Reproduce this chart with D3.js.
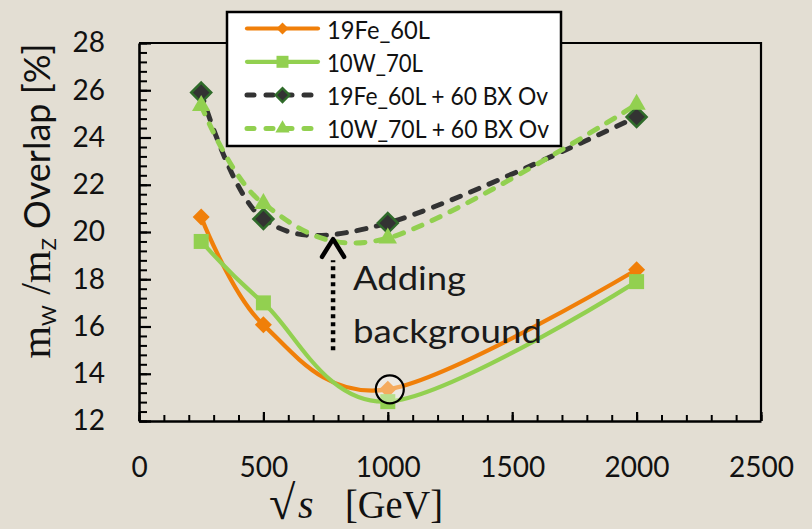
<!DOCTYPE html>
<html><head><meta charset="utf-8">
<script src="https://cdn.jsdelivr.net/npm/d3@7"></script>
<style>
html,body{margin:0;padding:0;background:#E3DED3;}
svg{display:block;}
</style></head><body>
<svg id="chart" width="812" height="529"></svg>
<script>
// Collision energy (GeV) and W/Z mass-peak overlap (%) per detector configuration
const energies = [250, 500, 1000, 2000];
const fe60 = [20.63, 16.07, 13.34, 18.4];
const w70 = [19.6, 17.0, 12.82, 17.9];
const fe60Ov = [25.9, 20.55, 20.38, 24.87];
const w70Ov = [25.35, 21.2, 19.74, 25.4];

const seriesNames = ["19Fe_60L", "10W_70L", "19Fe_60L + 60 BX Ov", "10W_70L + 60 BX Ov"];
const xTickValues = [0, 500, 1000, 1500, 2000, 2500];
const yTickValues = [12, 14, 16, 18, 20, 22, 24, 26, 28];
const xMinorStep = 100;
const yMinorStep = 0.4;
const highlightEnergy = 1000;

const svg = d3.select("#chart");
const sans = "Lato, 'Open Sans', sans-serif";
const serif = "'Liberation Serif', 'DejaVu Serif', serif";

const x = d3.scaleLinear().domain([0, 2500]).range([139, 761]);
const y = d3.scaleLinear().domain([12, 28]).range([421, 43]);

const ORANGE = "#F07F09", GREEN = "#92D050", DARK = "#333333", DKGREEN = "#2F6B2A";

// plot frame (top and right edges)
svg.append("path")
  .attr("d", `M${x(0)},${y(28)}H${x(2500)}V${y(12)}`)
  .attr("fill", "none").attr("stroke", "#000").attr("stroke-width", 2.2);

// minor ticks
const xMinor = d3.range(0, 2500 + 1, xMinorStep);
const yMinor = d3.range(12, 28 + 0.001, yMinorStep);
svg.append("g").attr("transform", `translate(0,${y(12)})`)
  .call(d3.axisBottom(x).tickValues(xMinor).tickSize(-6).tickSizeOuter(0).tickFormat(""))
  .call(g => g.select(".domain").remove())
  .call(g => g.selectAll("line").attr("stroke-width", 2));
svg.append("g").attr("transform", `translate(${x(0)},0)`)
  .call(d3.axisLeft(y).tickValues(yMinor).tickSize(-8).tickSizeOuter(0).tickFormat(""))
  .call(g => g.select(".domain").remove())
  .call(g => g.selectAll("line").attr("stroke-width", 2));

// major axes
const xAxis = svg.append("g").attr("transform", `translate(0,${y(12)})`)
  .call(d3.axisBottom(x).tickValues(xTickValues).tickSize(-9).tickSizeOuter(0).tickPadding(36).tickFormat(d3.format("d")));
const yAxis = svg.append("g").attr("transform", `translate(${x(0)},0)`)
  .call(d3.axisLeft(y).tickValues(yTickValues).tickSize(-12).tickSizeOuter(0).tickPadding(34).tickFormat(d3.format("d")));
[xAxis, yAxis].forEach(g => {
  g.select(".domain").attr("stroke-width", 2.6);
  g.selectAll(".tick line").attr("stroke-width", 2.2);
  g.selectAll(".tick text").attr("font-family", sans).attr("font-size", 28).attr("fill", "#111");
});

// smoothed series lines
const line = d3.line()
  .x((d, i) => x(energies[i]))
  .y(d => y(d))
  .curve(d3.curveCardinal.tension(0));

const diamond = r => `M0,${-r}L${r},0L0,${r}L${-r},0Z`;
const square = r => `M${-r},${-r}H${r}V${r}H${-r}Z`;
const tri = r => d3.symbol(d3.symbolTriangle, r * r * 1.8)();

const series = [
  { name: seriesNames[0], values: fe60, color: ORANGE, dash: null, width: 4.2,
    shape: diamond, r: 8.5, fill: ORANGE, stroke: "none", lr: 6 },
  { name: seriesNames[1], values: w70, color: GREEN, dash: null, width: 4.2,
    shape: square, r: 7.5, fill: GREEN, stroke: "none", lr: 6 },
  { name: seriesNames[2], values: fe60Ov, color: DARK, dash: "9,11", width: 5,
    shape: diamond, r: 10, fill: DARK, stroke: DKGREEN, lr: 7 },
  { name: seriesNames[3], values: w70Ov, color: GREEN, dash: "9,11", width: 5,
    shape: tri, r: 9, fill: GREEN, stroke: "none", lr: 7 }
];

series.forEach(s => {
  const g = svg.append("g");
  g.append("path").attr("d", line(s.values))
    .attr("fill", "none").attr("stroke", s.color).attr("stroke-width", s.width)
    .attr("stroke-linecap", "round")
    .attr("stroke-dasharray", s.dash);
  g.selectAll("path.mk").data(s.values).join("path").attr("class", "mk")
    .attr("transform", (d, i) => `translate(${x(energies[i])},${y(d)})`)
    .attr("d", s.shape(s.r))
    .attr("fill", s.fill).attr("stroke", s.stroke).attr("stroke-width", 2.5);
});

// highlight ring around the 1 TeV point
const hi = energies.indexOf(highlightEnergy);
svg.append("circle")
  .attr("cx", x(highlightEnergy) + 2).attr("cy", y(fe60[hi]))
  .attr("r", 14)
  .attr("fill", "rgba(255,255,255,0.35)")
  .attr("stroke", "#000").attr("stroke-width", 2.2);

// "Adding background" annotation arrow
const ax = x(780);
svg.append("line")
  .attr("x1", ax).attr("x2", ax).attr("y1", y(15.0)).attr("y2", y(18.8))
  .attr("stroke", "#000").attr("stroke-width", 4.5).attr("stroke-dasharray", "4,4");
svg.append("path")
  .attr("d", `M${ax - 11},${y(18.95)}L${ax},${y(19.7)}L${ax + 11},${y(18.95)}`)
  .attr("fill", "none").attr("stroke", "#000").attr("stroke-width", 4.5)
  .attr("stroke-linecap", "round").attr("stroke-linejoin", "round");
const note = svg.append("g").attr("font-family", sans).attr("font-size", 33).attr("fill", "#1a1a1a");
note.append("text").attr("x", 353).attr("y", 290)
  .attr("textLength", 113).attr("lengthAdjust", "spacingAndGlyphs").text("Adding");
note.append("text").attr("x", 353).attr("y", 343)
  .attr("textLength", 189).attr("lengthAdjust", "spacingAndGlyphs").text("background");

// axis titles
const yt = svg.append("text")
  .attr("transform", "translate(50,201) rotate(-90)")
  .attr("text-anchor", "middle").attr("fill", "#111");
yt.append("tspan").attr("font-family", serif).attr("font-size", 42).text("m");
yt.append("tspan").attr("font-family", sans).attr("font-size", 20).attr("dy", 6).text("W");
yt.append("tspan").attr("font-family", serif).attr("font-size", 42).attr("dy", -6).text(" /m");
yt.append("tspan").attr("font-family", sans).attr("font-size", 20).attr("dy", 6).text("Z");
yt.append("tspan").attr("font-family", sans).attr("font-size", 36).attr("dy", -6).text(" Overlap [%]");

const xt = svg.append("g").attr("fill", "#111").attr("font-family", serif);
xt.append("text").attr("x", 269).attr("y", 519).attr("font-size", 48).text("√");
xt.append("text").attr("x", 298).attr("y", 518).attr("font-size", 40)
  .attr("font-style", "italic").text("s");
xt.append("text").attr("x", 345).attr("y", 518).attr("font-size", 40)
  .attr("textLength", 98).attr("lengthAdjust", "spacingAndGlyphs").text("[GeV]");

// legend
const lg = svg.append("g");
lg.append("rect").attr("x", 227).attr("y", 12).attr("width", 334).attr("height", 134)
  .attr("fill", "#fff").attr("stroke", "#000").attr("stroke-width", 2.5);
series.forEach((s, i) => {
  const cy = 28.5 + i * 33.3;
  const row = lg.append("g").attr("transform", `translate(0,${cy})`);
  row.append("line").attr("x1", 247).attr("x2", 318).attr("y1", 0).attr("y2", 0)
    .attr("stroke", s.color).attr("stroke-width", s.width)
    .attr("stroke-linecap", "round")
    .attr("stroke-dasharray", s.dash ? "7,12" : null);
  row.append("path").attr("transform", "translate(282.5,0)")
    .attr("d", s.shape(s.lr)).attr("fill", s.fill)
    .attr("stroke", s.stroke).attr("stroke-width", 2.2);
  row.append("text").attr("x", 327).attr("y", 10)
    .attr("font-family", sans).attr("font-size", 25).attr("fill", "#111")
    .attr("textLength", [103, 96, 221, 222][i]).attr("lengthAdjust", "spacingAndGlyphs")
    .text(s.name);
});
</script>
</body></html>
